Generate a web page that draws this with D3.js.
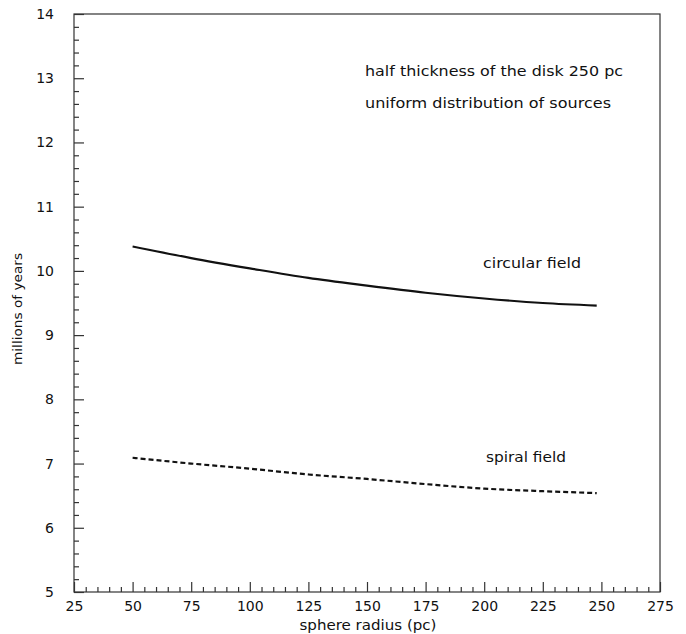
<!DOCTYPE html>
<html>
<head>
<meta charset="utf-8">
<script src="https://cdn.jsdelivr.net/npm/d3@7"></script>
<style>
  body { margin: 0; background: #fff; }
  svg { display: block; }
  text { font-family: "DejaVu Sans", sans-serif; fill: #111; }
</style>
</head>
<body>
<svg id="chart" width="686" height="634"></svg>
<script>
// Sphere radius (pc) sampled along each curve
const radius = [50, 75, 100, 125, 150, 175, 200, 225, 248];
// Time scale (millions of years)
const circularField = [10.38, 10.20, 10.04, 9.89, 9.77, 9.66, 9.57, 9.50, 9.46];
const spiralField   = [7.09, 7.00, 6.92, 6.83, 6.76, 6.68, 6.61, 6.57, 6.54];

const xMajor = [25, 50, 75, 100, 125, 150, 175, 200, 225, 250, 275];
const yMajor = [5, 6, 7, 8, 9, 10, 11, 12, 13, 14];
const notes = ["half thickness of the disk 250 pc", "uniform distribution of sources"];

const svg = d3.select("#chart");
const L = 74, R = 660, T = 14, B = 592;

const x = d3.scaleLinear().domain([25, 275]).range([L, R]);
const y = d3.scaleLinear().domain([5, 14]).range([B, T]);

const axisColor = "#333";

// frame
svg.append("rect")
  .attr("x", L).attr("y", T).attr("width", R - L).attr("height", B - T)
  .attr("fill", "none").attr("stroke", axisColor).attr("stroke-width", 1.2);

const xMinor = d3.range(25, 275.01, 5).filter(v => v % 25 !== 0);
const yMinor = d3.range(5, 14.001, 0.2).map(v => +v.toFixed(1)).filter(v => Math.abs(v - Math.round(v)) > 1e-6);

function styleAxis(g) {
  g.select(".domain").remove();
  g.selectAll(".tick line").attr("stroke", axisColor).attr("stroke-width", 1.2);
}

// x axis: major ticks with labels, minor ticks inward
svg.append("g").attr("transform", `translate(0,${B})`)
  .call(d3.axisBottom(x).tickValues(xMajor).tickSize(-10).tickPadding(9).tickFormat(d3.format("d")))
  .call(styleAxis)
  .call(g => g.selectAll("text").attr("font-size", 14).attr("font-family", "DejaVu Sans, sans-serif").attr("fill", "#111"));
svg.append("g").attr("transform", `translate(0,${B})`)
  .call(d3.axisBottom(x).tickValues(xMinor).tickSize(-5).tickFormat(""))
  .call(styleAxis);

// y axis
svg.append("g").attr("transform", `translate(${L},0)`)
  .call(d3.axisLeft(y).tickValues(yMajor).tickSize(-10).tickPadding(20).tickFormat(d3.format("d")))
  .call(styleAxis)
  .call(g => g.selectAll("text").attr("font-size", 14).attr("font-family", "DejaVu Sans, sans-serif").attr("fill", "#111"));
svg.append("g").attr("transform", `translate(${L},0)`)
  .call(d3.axisLeft(y).tickValues(yMinor).tickSize(-5).tickFormat(""))
  .call(styleAxis);

// axis titles
svg.append("text")
  .attr("x", 368).attr("y", 630)
  .attr("text-anchor", "middle").attr("font-size", 14)
  .attr("textLength", 137).attr("lengthAdjust", "spacingAndGlyphs")
  .text("sphere radius (pc)");
svg.append("text")
  .attr("transform", `translate(22,309) rotate(-90)`)
  .attr("text-anchor", "middle").attr("font-size", 13)
  .attr("textLength", 112).attr("lengthAdjust", "spacingAndGlyphs")
  .text("millions of years");

// curves
const line = d3.line().x((d, i) => x(radius[i])).y(d => y(d)).curve(d3.curveMonotoneX);

svg.append("path").datum(circularField)
  .attr("d", line).attr("fill", "none")
  .attr("stroke", "#111").attr("stroke-width", 2.2);

svg.append("path").datum(spiralField)
  .attr("d", line).attr("fill", "none")
  .attr("stroke", "#111").attr("stroke-width", 2.2)
  .attr("stroke-dasharray", "5,3");

// curve labels
svg.append("text").attr("x", 483).attr("y", 268).attr("font-size", 14)
  .attr("textLength", 98).attr("lengthAdjust", "spacingAndGlyphs").text("circular field");
svg.append("text").attr("x", 486).attr("y", 462).attr("font-size", 14)
  .attr("textLength", 80).attr("lengthAdjust", "spacingAndGlyphs").text("spiral field");

// annotations
svg.append("text").attr("x", 365).attr("y", 76).attr("font-size", 14)
  .attr("textLength", 258).attr("lengthAdjust", "spacingAndGlyphs").text(notes[0]);
svg.append("text").attr("x", 365).attr("y", 108).attr("font-size", 14)
  .attr("textLength", 246).attr("lengthAdjust", "spacingAndGlyphs").text(notes[1]);
</script>
</body>
</html>
